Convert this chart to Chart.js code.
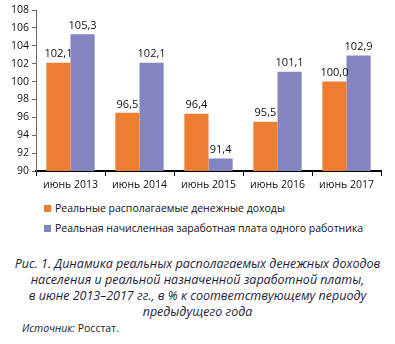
<!DOCTYPE html>
<html>
<head>
<meta charset="utf-8">
<script src="https://cdn.jsdelivr.net/npm/chart.js@4.4.1/dist/chart.umd.min.js"></script>
<style>
  html, body { margin: 0; padding: 0; background: #fff; }
  body { width: 395px; height: 344px; position: relative; overflow: hidden; font-family: "Open Sans", sans-serif; }
  #wrap { position: absolute; left: 0; top: 0; width: 395px; height: 198px; }
  .leg { position: absolute; left: 44px; font-size: 10.5px; color: #111; line-height: 12px; white-space: nowrap; }
  .leg i { display: inline-block; width: 7px; height: 7px; margin-right: 4px; vertical-align: 0; }
  #caption { position: absolute; left: 0; width: 395px; top: 256px; text-align: center; font-style: italic;
             font-size: 12.5px; line-height: 16px; color: #1e1e3c; }
  #source { position: absolute; left: 22px; top: 321px; font-size: 10.5px; color: #222; }
</style>
</head>
<body>
<div id="wrap"><canvas id="chart"></canvas></div>
<div class="leg" id="leg0" style="top:202px"></div>
<div class="leg" id="leg1" style="top:222px"></div>
<div id="caption">Рис. 1. Динамика реальных располагаемых денежных доходов<br>населения и реальной назначенной заработной платы,<br>в июне 2013–2017 гг., в % к соответствующему периоду<br>предыдущего года</div>
<div id="source"><i>Источник:</i> Росстат.</div>
<script>
// ===============================
// DATA
// ===============================
const categories = ["июнь 2013", "июнь 2014", "июнь 2015", "июнь 2016", "июнь 2017"];
const seriesNames = ["Реальные располагаемые денежные доходы", "Реальная начисленная заработная плата одного работника"];
const incomeValues = [102.1, 96.5, 96.4, 95.5, 100.0];
const wageValues = [105.3, 102.1, 91.4, 101.1, 102.9];
const yTicks = [90, 92, 94, 96, 98, 100, 102, 104, 106, 108];

const colors = ["#ED7D31", "#8484C0"];

// legend (html)
seriesNames.forEach((name, i) => {
  document.getElementById("leg" + i).innerHTML =
    `<i style="background:${colors[i]}"></i>${name}`;
});

// value labels above bars
const valueLabels = {
  id: "valueLabels",
  afterDatasetsDraw(chart) {
    const ctx = chart.ctx;
    ctx.save();
    ctx.font = "11px 'Open Sans', sans-serif";
    ctx.fillStyle = "#111";
    ctx.textAlign = "center";
    ctx.textBaseline = "bottom";
    chart.data.datasets.forEach((ds, di) => {
      chart.getDatasetMeta(di).data.forEach((bar, i) => {
        const txt = ds.data[i].toFixed(1).replace(".", ",");
        ctx.fillText(txt, bar.x, bar.y - 3);
      });
    });
    ctx.restore();
  }
};

new Chart(document.getElementById("chart"), {
  type: "bar",
  data: {
    labels: categories,
    datasets: [
      { label: seriesNames[0], data: incomeValues, backgroundColor: colors[0] },
      { label: seriesNames[1], data: wageValues, backgroundColor: colors[1] }
    ]
  },
  options: {
    responsive: true,
    maintainAspectRatio: false,
    animation: false,
    layout: { padding: { top: 10, right: 14, left: 0, bottom: 0 } },
    datasets: {
      bar: { categoryPercentage: 0.7, barPercentage: 1.0, borderWidth: 0 }
    },
    plugins: { legend: { display: false }, tooltip: { enabled: false } },
    scales: {
      x: {
        grid: { display: true, drawOnChartArea: false, drawTicks: true, tickLength: 5, color: "#000", offset: true },
        border: { display: true, color: "#000", width: 2 },
        ticks: { color: "#111", font: { family: "Open Sans", size: 10.5 }, padding: 3 },
        afterFit(scale) { scale.height = 27; }
      },
      y: {
        min: 90,
        max: 108,
        afterBuildTicks(scale) { scale.ticks = yTicks.map(v => ({ value: v })); },
        grid: { display: true, drawOnChartArea: false, drawTicks: true, tickLength: 4, color: "#666" },
        border: { display: true, color: "#666", width: 1 },
        ticks: { color: "#111", font: { family: "Open Sans", size: 10.5 }, padding: 3 },
        afterFit(scale) { scale.width = 36; }
      }
    }
  },
  plugins: [valueLabels]
});
</script>
</body>
</html>
